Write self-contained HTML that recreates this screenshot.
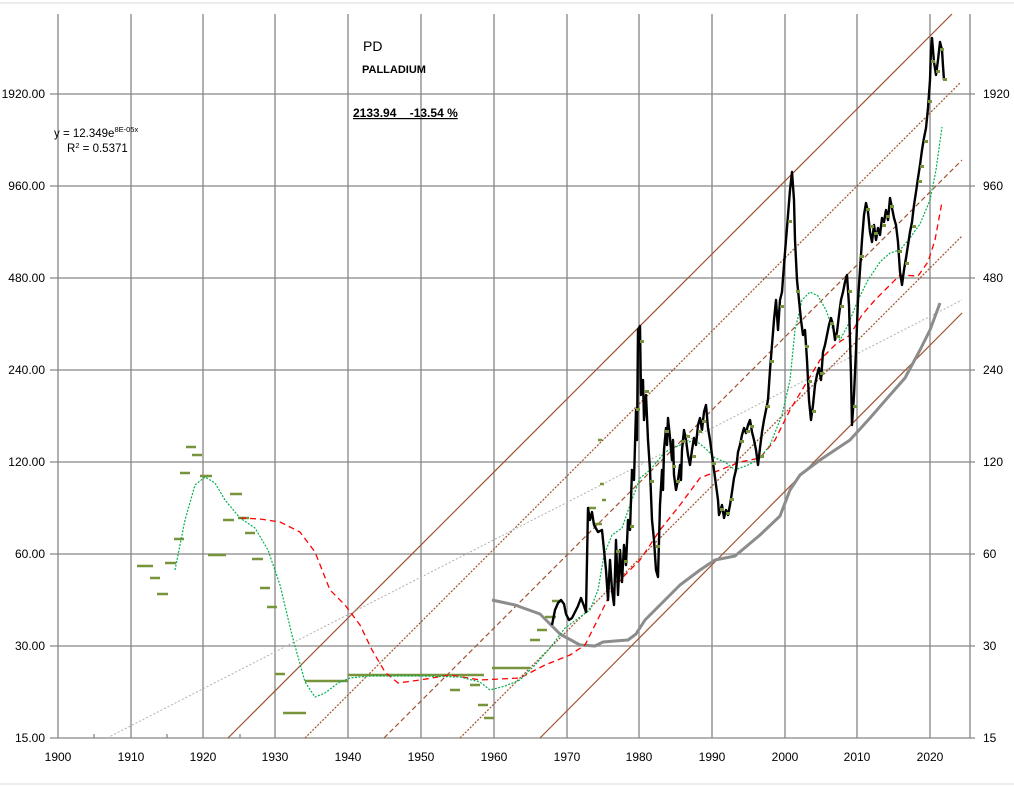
<!DOCTYPE html>
<html><head><meta charset="utf-8"><style>
html,body{margin:0;padding:0;background:#fff;}
svg{display:block;font-family:"Liberation Sans",sans-serif;}
</style></head><body>
<svg width="1014" height="789" viewBox="0 0 1014 789">
<rect width="1014" height="789" fill="#fff"/>
<line x1="0" y1="3" x2="1014" y2="3" stroke="#d8d8d8"/>
<line x1="0" y1="784" x2="1014" y2="784" stroke="#d8d8d8"/>
<g stroke="#868686" stroke-width="1.3">
<line x1="58" y1="14" x2="58" y2="738"/><line x1="131" y1="14" x2="131" y2="738"/><line x1="203" y1="14" x2="203" y2="738"/><line x1="275" y1="14" x2="275" y2="738"/><line x1="348" y1="14" x2="348" y2="738"/><line x1="421" y1="14" x2="421" y2="738"/><line x1="494" y1="14" x2="494" y2="738"/><line x1="567" y1="14" x2="567" y2="738"/><line x1="639" y1="14" x2="639" y2="738"/><line x1="712" y1="14" x2="712" y2="738"/><line x1="785" y1="14" x2="785" y2="738"/><line x1="857" y1="14" x2="857" y2="738"/><line x1="930" y1="14" x2="930" y2="738"/><line x1="970" y1="14" x2="970" y2="738"/>
<line x1="50" y1="94" x2="975" y2="94"/><line x1="50" y1="186" x2="975" y2="186"/><line x1="50" y1="278" x2="975" y2="278"/><line x1="50" y1="370" x2="975" y2="370"/><line x1="50" y1="462" x2="975" y2="462"/><line x1="50" y1="554" x2="975" y2="554"/><line x1="50" y1="646" x2="975" y2="646"/><line x1="50" y1="738" x2="975" y2="738"/>
<line x1="94" y1="738" x2="94" y2="734"/><line x1="167" y1="738" x2="167" y2="734"/><line x1="240" y1="738" x2="240" y2="734"/>
</g>
<g font-size="12" fill="#000">
<g text-anchor="end"><text x="45" y="98">1920.00</text><text x="45" y="190">960.00</text><text x="45" y="282">480.00</text><text x="45" y="374">240.00</text><text x="45" y="466">120.00</text><text x="45" y="558">60.00</text><text x="45" y="650">30.00</text><text x="45" y="742">15.00</text></g>
<text x="983" y="98">1920</text><text x="983" y="190">960</text><text x="983" y="282">480</text><text x="983" y="374">240</text><text x="983" y="466">120</text><text x="983" y="558">60</text><text x="983" y="650">30</text><text x="983" y="742">15</text>
<g text-anchor="middle"><text x="58" y="761">1900</text><text x="131" y="761">1910</text><text x="203" y="761">1920</text><text x="275" y="761">1930</text><text x="348" y="761">1940</text><text x="421" y="761">1950</text><text x="494" y="761">1960</text><text x="567" y="761">1970</text><text x="639" y="761">1980</text><text x="712" y="761">1990</text><text x="785" y="761">2000</text><text x="857" y="761">2010</text><text x="930" y="761">2020</text></g>
<text x="363" y="51" font-size="14">PD</text>
<text x="362" y="73" font-size="11" font-weight="bold">PALLADIUM</text>
<text x="353" y="117" font-size="12" font-weight="bold" text-decoration="underline">2133.94 &#160;&#160; -13.54 %</text>
<text x="54" y="137" font-size="11.5">y = 12.349e<tspan font-size="7.5" dy="-5">8E-05x</tspan></text>
<text x="67" y="152" font-size="11.5">R<tspan font-size="7.5" dy="-4">2</tspan><tspan dy="4"> = 0.5371</tspan></text>
</g>
<g stroke="#a0522d" fill="none" stroke-width="1.2">
<line x1="228" y1="738" x2="952" y2="14"/>
<line x1="305" y1="738" x2="960" y2="83" stroke-dasharray="2,1.5"/>
<line x1="384" y1="738" x2="962" y2="160" stroke-dasharray="5,3"/>
<line x1="460" y1="738" x2="962" y2="236" stroke-dasharray="2,1.5"/>
<line x1="540" y1="738" x2="962" y2="313"/>
</g>
<line x1="107" y1="738" x2="962" y2="300" stroke="#b0b0b0" stroke-dasharray="2,2"/>
<g stroke="#77933c" stroke-width="2.5">
<line x1="137" y1="566" x2="153" y2="566"/><line x1="150" y1="578" x2="160" y2="578"/><line x1="157" y1="594" x2="168" y2="594"/><line x1="165" y1="563" x2="176" y2="563"/><line x1="174" y1="539" x2="184" y2="539"/><line x1="180" y1="473" x2="190" y2="473"/><line x1="186" y1="447" x2="196" y2="447"/><line x1="192" y1="455" x2="202" y2="455"/><line x1="200" y1="476" x2="212" y2="476"/><line x1="208" y1="555" x2="226" y2="555"/><line x1="223" y1="520" x2="234" y2="520"/><line x1="230" y1="494" x2="242" y2="494"/><line x1="238" y1="518" x2="249" y2="518"/><line x1="245" y1="533" x2="255" y2="533"/><line x1="252" y1="559" x2="263" y2="559"/><line x1="260" y1="588" x2="270" y2="588"/><line x1="267" y1="607" x2="277" y2="607"/><line x1="275" y1="674" x2="285" y2="674"/><line x1="283" y1="713" x2="306" y2="713"/><line x1="305" y1="681" x2="348" y2="681"/><line x1="348" y1="675" x2="484" y2="675"/><line x1="450" y1="690" x2="460" y2="690"/><line x1="470" y1="685" x2="480" y2="685"/><line x1="478" y1="705" x2="488" y2="705"/><line x1="484" y1="718" x2="494" y2="718"/><line x1="492" y1="668" x2="530" y2="668"/><line x1="530" y1="640" x2="540" y2="640"/><line x1="537" y1="630" x2="547" y2="630"/><line x1="545" y1="617" x2="556" y2="617"/><line x1="552" y1="601" x2="562" y2="601"/><line x1="588" y1="508" x2="596" y2="508"/><line x1="594" y1="524" x2="602" y2="524"/><line x1="598" y1="440" x2="602" y2="440"/><line x1="600" y1="484" x2="604" y2="484"/><line x1="602" y1="500" x2="606" y2="500"/>
</g>
<polyline fill="none" stroke="#8c8c8c" stroke-width="3" stroke-linejoin="round" points="492,600 515,605 540,614 560,634 580,645 595,646 603,642 615,641 628,640 636,634 645,620 655,610 680,585 700,570 715,560 735,556 760,535 780,516 790,490 800,475 820,460 850,440 870,418 890,395 905,378 920,350 930,330 940,303"/>
<polyline fill="none" stroke="#ff0000" stroke-width="1.3" stroke-dasharray="6,4" points="240,518 260,519 280,522 300,532 315,552 330,590 345,605 360,625 372,650 385,672 398,683 420,680 450,675 480,680 520,678 545,665 570,655 585,645 600,615 612,590 625,575 640,560 660,530 680,505 700,478 720,470 740,462 760,458 775,440 790,410 805,385 820,360 835,345 850,335 862,315 875,300 890,285 900,275 918,276 928,262 935,240 942,202"/>
<polyline fill="none" stroke="#00b050" stroke-width="1.2" stroke-dasharray="2,1.5" points="175,570 185,520 195,485 205,477 215,483 225,500 240,518 255,528 268,550 280,585 292,635 305,682 315,697 325,693 338,683 350,678 370,676 420,676 460,677 480,682 490,690 505,686 520,680 535,665 550,648 565,628 580,617 590,610 598,590 604,555 612,535 622,528 630,505 640,478 650,470 665,452 680,445 695,440 705,448 715,458 725,462 735,470 748,465 760,458 770,445 782,415 790,380 795,330 802,300 810,292 818,296 826,310 833,330 840,340 848,325 858,300 868,280 880,262 890,253 900,250 910,238 920,224 930,200 936,170 942,127"/>
<polyline fill="none" stroke="#000" stroke-width="2.4" stroke-linejoin="round" points="552,625 555,610 558,603 561,600 564,604 566,614 569,620 572,618 575,612 578,606 581,598 584,606 586,612 588,508 590,520 592,512 594,525 598,532 602,530 606,570 608,600 610,560 612,590 614,605 616,540 618,595 620,550 622,582 624,545 626,565 628,520 630,530 632,470 634,480 636,410 637,440 638,330 640,326 641,395 643,380 644,420 646,395 648,440 650,470 652,520 654,540 656,570 658,577 660,505 662,470 663,490 664,450 666,428 667,445 668,418 670,438 672,460 673,440 674,475 676,490 678,480 680,465 681,480 682,450 684,430 686,440 688,455 690,465 692,450 694,438 696,445 698,425 700,418 702,430 704,412 706,405 708,428 710,440 712,455 714,470 716,485 718,500 719,515 720,512 722,505 724,518 726,510 728,515 730,505 732,492 734,478 736,470 738,452 740,445 742,435 744,428 746,433 748,425 750,420 752,432 754,440 756,450 758,465 760,448 762,432 764,420 766,410 768,400 770,370 772,345 774,320 776,300 778,330 780,300 782,292 784,265 786,240 788,215 790,190 792,172 794,200 795,240 797,280 799,300 801,320 803,335 805,330 807,360 809,400 811,420 813,405 815,385 817,375 819,368 821,380 823,352 825,345 827,335 829,325 831,318 833,325 835,340 837,332 839,315 841,300 843,292 845,282 847,275 849,305 851,375 852,425 854,395 856,350 858,300 860,270 862,240 864,215 866,203 868,212 870,232 872,242 874,225 876,240 878,228 880,235 882,218 884,222 886,210 888,220 890,198 892,208 894,218 896,225 898,242 900,272 902,285 904,270 906,258 908,245 910,232 912,222 914,205 916,192 918,178 920,165 922,150 924,138 926,128 928,108 930,80 931,50 932,38 934,62 936,75 938,60 940,42 942,50 943,66 944,80"/>
<g fill="#77933c">
<rect x="636" y="408" width="4" height="3"/><rect x="640" y="340" width="4" height="3"/><rect x="645" y="390" width="4" height="3"/><rect x="650" y="480" width="4" height="3"/><rect x="656" y="545" width="4" height="3"/><rect x="665" y="430" width="4" height="3"/><rect x="672" y="465" width="4" height="3"/><rect x="682" y="440" width="4" height="3"/><rect x="692" y="455" width="4" height="3"/><rect x="702" y="420" width="4" height="3"/><rect x="712" y="462" width="4" height="3"/><rect x="720" y="508" width="4" height="3"/><rect x="730" y="498" width="4" height="3"/><rect x="740" y="440" width="4" height="3"/><rect x="750" y="425" width="4" height="3"/><rect x="760" y="455" width="4" height="3"/><rect x="770" y="360" width="4" height="3"/><rect x="780" y="305" width="4" height="3"/><rect x="788" y="220" width="4" height="3"/><rect x="796" y="290" width="4" height="3"/><rect x="805" y="345" width="4" height="3"/><rect x="812" y="410" width="4" height="3"/><rect x="820" y="372" width="4" height="3"/><rect x="830" y="322" width="4" height="3"/><rect x="840" y="305" width="4" height="3"/><rect x="848" y="290" width="4" height="3"/><rect x="853" y="405" width="4" height="3"/><rect x="860" y="255" width="4" height="3"/><rect x="866" y="208" width="4" height="3"/><rect x="874" y="232" width="4" height="3"/><rect x="882" y="224" width="4" height="3"/><rect x="890" y="205" width="4" height="3"/><rect x="898" y="250" width="4" height="3"/><rect x="905" y="262" width="4" height="3"/><rect x="912" y="225" width="4" height="3"/><rect x="918" y="180" width="4" height="3"/><rect x="924" y="140" width="4" height="3"/><rect x="928" y="100" width="4" height="3"/><rect x="931" y="60" width="4" height="3"/><rect x="936" y="70" width="4" height="3"/><rect x="940" y="48" width="4" height="3"/><rect x="943" y="78" width="4" height="3"/><rect x="616" y="550" width="4" height="3"/><rect x="624" y="560" width="4" height="3"/><rect x="630" y="525" width="4" height="3"/><rect x="676" y="480" width="4" height="3"/><rect x="686" y="435" width="4" height="3"/><rect x="698" y="430" width="4" height="3"/><rect x="726" y="512" width="4" height="3"/><rect x="746" y="430" width="4" height="3"/><rect x="766" y="405" width="4" height="3"/><rect x="808" y="380" width="4" height="3"/><rect x="836" y="335" width="4" height="3"/><rect x="870" y="225" width="4" height="3"/><rect x="886" y="215" width="4" height="3"/><rect x="920" y="165" width="4" height="3"/>
</g>
</svg>
</body></html>
